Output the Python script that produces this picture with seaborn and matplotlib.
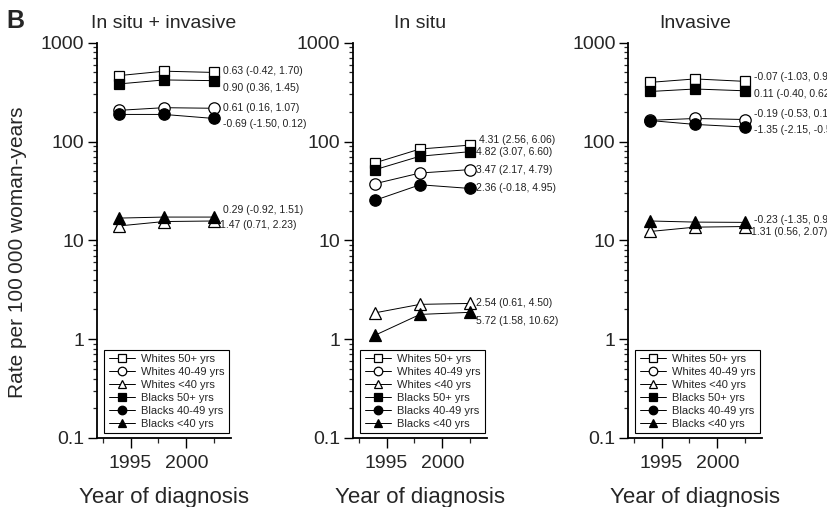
import matplotlib
matplotlib.use("Agg")
import matplotlib.pyplot as plt
import seaborn as sns
import pandas as pd
from matplotlib.ticker import FixedLocator, LogLocator, NullFormatter

# ---------------- data ----------------
years = [1994, 1998, 2002.5]
panel_titles = ["In situ + invasive", "In situ", "Invasive"]
series_names = ["Whites 50+ yrs", "Whites 40-49 yrs", "Whites <40 yrs",
                "Blacks 50+ yrs", "Blacks 40-49 yrs", "Blacks <40 yrs"]
ytick_values = [0.1, 1, 10, 100, 1000]
ytick_labels = ["0.1", "1", "10", "100", "1000"]
xtick_values = [1995, 2000]
xtick_labels = ["1995", "2000"]

# In situ + invasive
total_w50 = [465, 515, 500]
total_w40 = [207, 220, 217]
total_wlt40 = [14.0, 15.5, 15.7]
total_b50 = [383, 420, 413]
total_b40 = [188, 188, 171]
total_blt40 = [16.8, 17.2, 17.2]
total_notes = ["0.63 (-0.42, 1.70)", "0.61 (0.16, 1.07)", "1.47 (0.71, 2.23)",
               "0.90 (0.36, 1.45)", "-0.69 (-1.50, 0.12)", "0.29 (-0.92, 1.51)"]

# In situ
insitu_w50 = [61, 84, 92]
insitu_w40 = [37.5, 48, 52]
insitu_wlt40 = [1.85, 2.25, 2.3]
insitu_b50 = [52, 71, 79]
insitu_b40 = [25.5, 36.5, 33.5]
insitu_blt40 = [1.1, 1.78, 1.87]
insitu_notes = ["4.31 (2.56, 6.06)", "3.47 (2.17, 4.79)", "2.54 (0.61, 4.50)",
                "4.82 (3.07, 6.60)", "2.36 (-0.18, 4.95)", "5.72 (1.58, 10.62)"]

# Invasive
inv_w50 = [397, 430, 406]
inv_w40 = [164, 171, 167]
inv_wlt40 = [12.3, 13.6, 13.8]
inv_b50 = [321, 340, 326]
inv_b40 = [163, 149, 140]
inv_blt40 = [15.7, 15.3, 15.2]
inv_notes = ["-0.07 (-1.03, 0.90)", "-0.19 (-0.53, 0.15)", "1.31 (0.56, 2.07)",
             "0.11 (-0.40, 0.62)", "-1.35 (-2.15, -0.55)", "-0.23 (-1.35, 0.90)"]

panel_values = [
    [total_w50, total_w40, total_wlt40, total_b50, total_b40, total_blt40],
    [insitu_w50, insitu_w40, insitu_wlt40, insitu_b50, insitu_b40, insitu_blt40],
    [inv_w50, inv_w40, inv_wlt40, inv_b50, inv_b40, inv_blt40],
]
panel_notes = [total_notes, insitu_notes, inv_notes]

rows = []
for p, title in enumerate(panel_titles):
    for s, name in enumerate(series_names):
        for yr, v in zip(years, panel_values[p][s]):
            rows.append({"panel": title, "series": name, "year": yr, "rate": v})
df = pd.DataFrame(rows)

# ---------------- style ----------------
sns.set_style("ticks")
plt.rcParams["font.family"] = ["Liberation Sans", "DejaVu Sans"]

markers = {"Whites 50+ yrs": "s", "Whites 40-49 yrs": "o", "Whites <40 yrs": "^",
           "Blacks 50+ yrs": "s", "Blacks 40-49 yrs": "o", "Blacks <40 yrs": "^"}
msizes = {"s": 7.5, "o": 8.2, "^": 8.6}

# label offsets (points) for each panel / series
note_offsets = [
    [(6, 1), (6, 0), (4, -3), (6, -5), (6, -4), (6, 5)],
    [(6, 4), (4, 0), (4, 0), (4, 0), (4, 0), (4, -6)],
    [(6, 3), (6, 4), (4, -4), (6, -2), (6, -2), (6, 2)],
]

W, H = 827, 507
fig = plt.figure(figsize=(W / 100, H / 100), dpi=100)
lefts = [97, 353, 628]
ax_w = 134
ax_top, ax_bot = 42.7, 438

for p, title in enumerate(panel_titles):
    ax = fig.add_axes([lefts[p] / W, (H - ax_bot) / H, ax_w / W, (ax_bot - ax_top) / H])
    sub = df[df["panel"] == title]
    for group, face in [(series_names[:3], "white"), (series_names[3:], "black")]:
        d = sub[sub["series"].isin(group)]
        sns.lineplot(data=d, x="year", y="rate", hue="series", style="series",
                     hue_order=group, style_order=group,
                     markers={k: markers[k] for k in group}, dashes=False,
                     palette={k: "black" for k in group},
                     markerfacecolor=face, markeredgecolor="black",
                     markeredgewidth=0.9, linewidth=0.7, legend=False,
                     errorbar=None, ax=ax)
    lines = ax.get_lines()
    for ln in lines:
        ln.set_markersize(msizes[ln.get_marker()])
        ln.set_clip_on(False)

    ax.set_yscale("log")
    ax.set_ylim(0.1, 1000)
    ax.set_xlim(1992, 2004)
    ax.set_yticks(ytick_values)
    ax.set_yticklabels(ytick_labels)
    ax.yaxis.set_minor_locator(LogLocator(base=10, subs=range(2, 10), numticks=20))
    ax.yaxis.set_minor_formatter(NullFormatter())
    ax.set_xticks(xtick_values)
    ax.set_xticklabels(xtick_labels)
    ax.xaxis.set_minor_locator(FixedLocator([1992.5, 1997.5, 2002.5]))

    ax.tick_params(axis="both", which="major", labelsize=14, width=1.0, color="black",
                   direction="out")
    ax.tick_params(axis="y", which="major", length=6.5, pad=2.5)
    ax.tick_params(axis="y", which="minor", length=3, width=0.9)
    ax.tick_params(axis="x", which="major", length=7, pad=5)
    ax.tick_params(axis="x", which="minor", length=3.5, width=0.9)
    sns.despine(ax=ax)
    for sp in ["left", "bottom"]:
        ax.spines[sp].set_linewidth(1.3)
        ax.spines[sp].set_color("black")

    ax.set_title(title, fontsize=14, pad=10.5)
    ax.set_xlabel("Year of diagnosis", fontsize=16)
    ax.xaxis.set_label_coords(0.5, -0.125)
    if p == 0:
        ax.set_ylabel("Rate per 100\u2009000 woman-years", fontsize=15)
        ax.yaxis.set_label_coords(-0.52, 0.47)
    else:
        ax.set_ylabel("")

    for s, name in enumerate(series_names):
        vals = panel_values[p][s]
        dx, dy = note_offsets[p][s]
        ax.annotate(panel_notes[p][s], xy=(years[-1], vals[-1]), xytext=(dx, dy),
                    textcoords="offset points", ha="left", va="center",
                    fontsize=7.5, annotation_clip=False, color="#222222")

    leg = ax.legend(lines, series_names, loc="lower right",
                    bbox_to_anchor=(0.985, 0.012), fontsize=8, frameon=True,
                    fancybox=False, framealpha=1, edgecolor="black",
                    borderpad=0.4, labelspacing=0.26, handlelength=2.4,
                    handletextpad=0.5, markerscale=0.75, borderaxespad=0)
    leg.get_frame().set_linewidth(0.8)

fig.text(6 / W, 1 - 28 / H, "B", fontsize=18, fontweight="bold", va="baseline")

fig.savefig("out.png", dpi=100)
